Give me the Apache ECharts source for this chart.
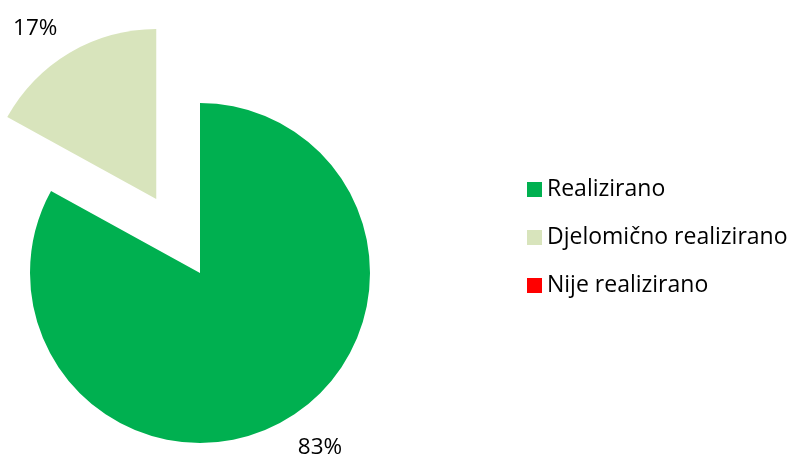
<!DOCTYPE html>
<html>
<head>
<meta charset="utf-8">
<script src="https://cdn.jsdelivr.net/npm/echarts@6/dist/echarts.min.js"></script>
<style>
  html, body { margin: 0; padding: 0; background: #fff; }
  #chart { width: 793px; height: 456px; }
</style>
</head>
<body>
<div id="chart"></div>
<script>
const categories = ['Realizirano', 'Djelomično realizirano', 'Nije realizirano']
const values = [83, 17, 0]
const colors = ['#00B050', '#D8E4BC', '#FF0000']
const exploded = [false, true, false]
// small nudges so the labels sit where the original puts them
const labelNudge = [[-8, 4], [7, 0], [0, 0]]

const chart = echarts.init(document.getElementById('chart'))

const data = categories.map((name, i) => ({
  name: name,
  value: values[i],
  selected: exploded[i],
  itemStyle: { color: colors[i] },
  label: { show: values[i] > 0, offset: labelNudge[i] },
  select: { label: { offset: labelNudge[i] } },
}))

const option = {
  animation: false,
  textStyle: { fontFamily: 'Open Sans, sans-serif' },
  legend: {
    orient: 'vertical',
    left: 522,
    top: 173,
    itemWidth: 15,
    itemHeight: 15,
    itemGap: 25,
    icon: 'rect',
    textStyle: { fontSize: 23, color: '#000', fontFamily: 'Open Sans, sans-serif' },
    data: categories,
  },
  series: [
    {
      type: 'pie',
      center: [200, 273],
      radius: 170,
      startAngle: 90,
      clockwise: true,
      selectedMode: 'single',
      selectedOffset: 86,
      avoidLabelOverlap: false,
      label: {
        position: 'outside',
        formatter: '{c}%',
        fontSize: 22.5,
        color: '#000',
        fontFamily: 'Open Sans, sans-serif',
      },
      labelLine: { show: false, length: 28, length2: 0 },
      emphasis: { disabled: true },
      data: data,
    },
  ],
}

chart.setOption(option)
</script>
</body>
</html>
